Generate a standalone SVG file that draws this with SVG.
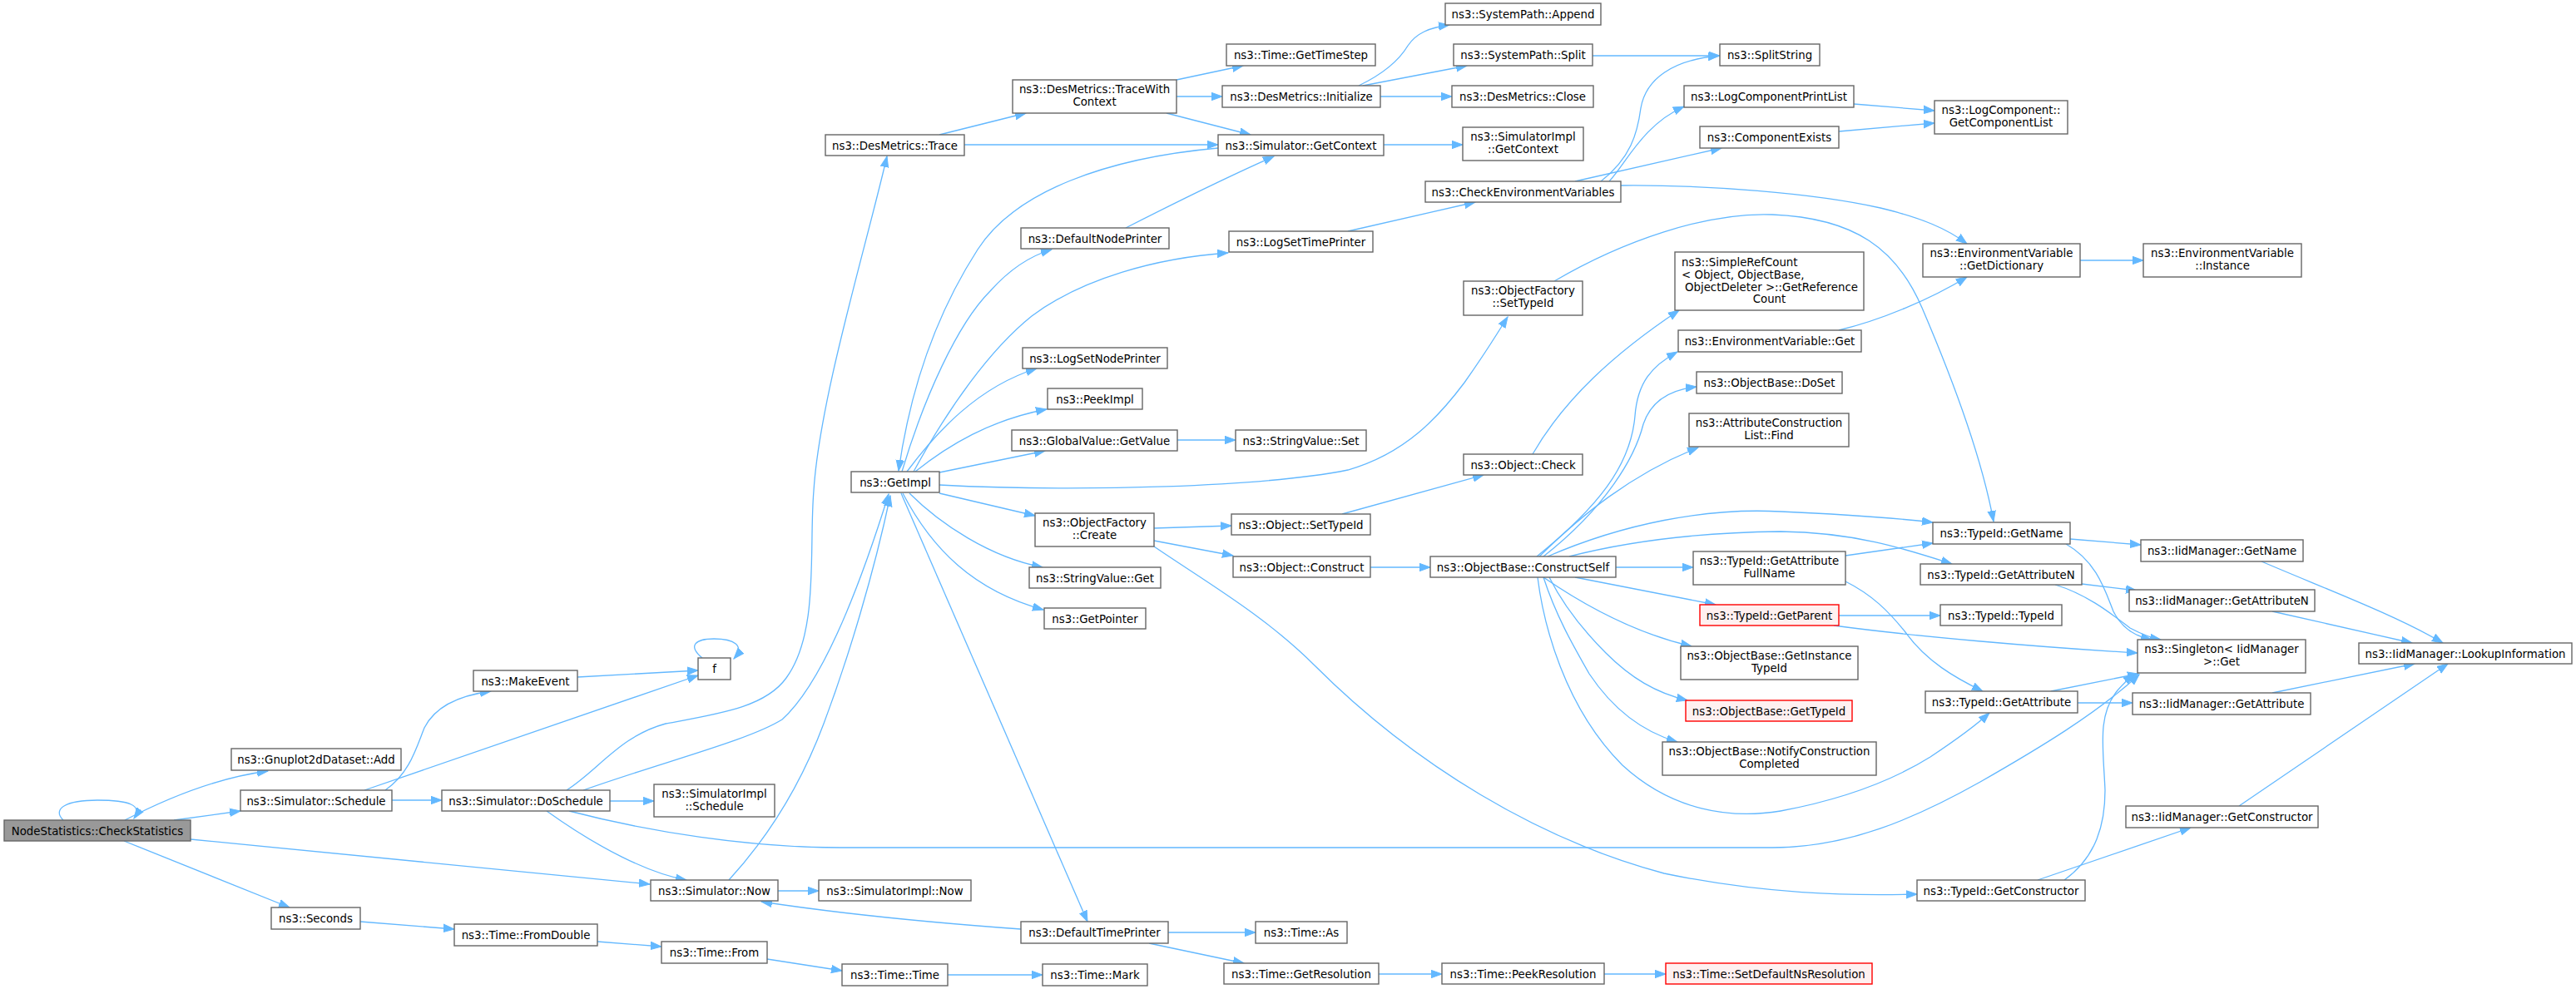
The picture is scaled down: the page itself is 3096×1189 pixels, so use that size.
<svg xmlns="http://www.w3.org/2000/svg" width="3096" height="1189" viewBox="0 0 3096 1189">
<style>
.n rect{fill:#ffffff;stroke:#666666;stroke-width:1.4}
.r rect{fill:#fff0f0;stroke:#ff0000;stroke-width:1.4}
.m rect{fill:#999999;stroke:#666666;stroke-width:1.4}
text{font-family:"DejaVu Sans",sans-serif;font-size:13.33px;text-anchor:middle;fill:#000000}
text.l{text-anchor:start}
#edges path{fill:none;stroke:#63b8ff;stroke-width:1.3;marker-end:url(#a)}
</style>
<defs>
<marker id="a" markerUnits="userSpaceOnUse" markerWidth="14" markerHeight="11" refX="13" refY="5.5" orient="auto">
<path d="M0,0.8 L13,5.5 L0,10.2 z" fill="#63b8ff" stroke="#63b8ff" stroke-width="1"/>
</marker>
</defs>
<rect x="0" y="0" width="3096" height="1189" fill="#ffffff"/>
<g id="edges">
<path d="M76,986 C62,972 80,962 117,962 C155,962 172,968 161,984"/>
<path d="M150,986 C200,960 260,935 322,927"/>
<path d="M209,986 L289,975"/>
<path d="M229,1009 L781,1063"/>
<path d="M149,1011 L348,1091"/>
<path d="M463,950 C492,930 500,900 510,875 C525,845 560,835 590,831"/>
<path d="M438,950 L839,812"/>
<path d="M471,962 L531,962"/>
<path d="M694,814 L839,806"/>
<path d="M844,791 C826,776 836,768 858,768 C882,768 896,776 882,792"/>
<path d="M681,950 C720,925 745,885 800,870 C865,858 920,850 945,815 C985,760 972,660 978,590 C985,480 1040,300 1066,188"/>
<path d="M701,950 C800,915 900,890 940,865 C990,820 1035,700 1068,594"/>
<path d="M733,963 L786,963"/>
<path d="M657,975 C720,1020 780,1050 825,1058"/>
<path d="M684,975 C780,1000 900,1019 1010,1019 L2130,1019 C2220,1019 2300,985 2380,940 C2450,900 2520,858 2571,811"/>
<path d="M433,1108 L546,1117"/>
<path d="M718,1132 L795,1138"/>
<path d="M935,1071 L984,1071"/>
<path d="M876,1058 C920,1010 960,950 990,870 C1020,790 1050,690 1070,596"/>
<path d="M1227,1117 C1130,1110 1020,1100 915,1084"/>
<path d="M1404,1121 L1509,1121"/>
<path d="M1381,1134 L1495,1158"/>
<path d="M922,1153 L1012,1167"/>
<path d="M1139,1172 L1253,1172"/>
<path d="M1657,1171 L1733,1171"/>
<path d="M1928,1171 L2002,1171"/>
<path d="M1083,593 L1307,1108"/>
<path d="M1090,567 C1125,520 1175,465 1246,443"/>
<path d="M1100,567 C1140,535 1190,505 1258,492"/>
<path d="M1129,568 L1256,542"/>
<path d="M1129,583 C1300,592 1520,585 1620,565 C1690,545 1730,500 1760,460 C1785,425 1800,400 1812,381"/>
<path d="M1129,593 L1244,620"/>
<path d="M1093,593 C1130,630 1190,670 1253,682"/>
<path d="M1085,593 C1120,660 1170,710 1254,733"/>
<path d="M1084,567 C1110,480 1150,390 1190,350 C1215,322 1240,307 1264,300"/>
<path d="M1098,567 C1140,490 1190,420 1240,380 C1300,335 1390,310 1476,304"/>
<path d="M1464,178 C1330,190 1220,230 1175,300 C1130,370 1095,460 1080,566"/>
<path d="M1129,162 L1233,136"/>
<path d="M1159,174 L1464,174"/>
<path d="M1414,96 L1494,79"/>
<path d="M1414,116 L1469,116"/>
<path d="M1402,136 L1503,162"/>
<path d="M1353,274 C1400,250 1470,215 1531,188"/>
<path d="M1663,174 L1758,174"/>
<path d="M1633,103 C1660,90 1680,75 1692,55 C1702,40 1718,33 1742,30"/>
<path d="M1638,103 L1763,79"/>
<path d="M1659,116 L1745,116"/>
<path d="M1914,67 L2067,67"/>
<path d="M1620,278 L1773,243"/>
<path d="M1924,218 C1960,190 1968,160 1972,130 C1978,95 2010,72 2066,67"/>
<path d="M1934,218 C1955,195 1975,150 2024,128"/>
<path d="M1893,218 L2069,178"/>
<path d="M1948,223 C2050,222 2180,232 2260,250 C2310,262 2340,275 2364,293"/>
<path d="M2228,125 L2325,133"/>
<path d="M2210,158 L2325,148"/>
<path d="M2210,397 C2260,385 2320,360 2364,333"/>
<path d="M2500,313 L2576,313"/>
<path d="M1868,338 C1950,290 2050,255 2130,258 C2230,262 2280,300 2310,370 C2340,440 2380,540 2396,627"/>
<path d="M1415,529 L1485,529"/>
<path d="M1387,635 L1480,632"/>
<path d="M1387,650 L1482,668"/>
<path d="M1387,657 C1450,700 1520,740 1580,800 C1700,920 1850,1010 2000,1050 C2120,1075 2220,1077 2304,1075"/>
<path d="M1613,618 L1783,571"/>
<path d="M1842,546 C1880,480 1940,425 2018,373"/>
<path d="M1647,682 L1719,682"/>
<path d="M1847,669 C1920,610 1960,560 1965,500 C1968,460 1985,440 2016,423"/>
<path d="M1855,669 C1930,610 1965,550 1975,510 C1985,480 2010,468 2039,465"/>
<path d="M1850,669 C1900,620 1960,570 2041,538"/>
<path d="M1860,669 C1950,630 2050,610 2140,615 C2210,618 2270,622 2323,628"/>
<path d="M1886,669 C1960,650 2050,640 2140,639 C2230,640 2290,660 2346,678"/>
<path d="M1942,682 L2035,682"/>
<path d="M1893,694 L2062,727"/>
<path d="M1855,694 C1900,725 1960,760 2033,777"/>
<path d="M1862,694 C1880,730 1905,760 1930,785 C1960,815 1990,833 2028,842"/>
<path d="M1855,694 C1870,740 1890,775 1910,810 C1940,855 1975,880 2016,892"/>
<path d="M1848,694 C1855,750 1880,850 1950,920 C2010,975 2080,985 2140,975 C2220,960 2280,935 2320,910 C2350,890 2375,872 2391,857"/>
<path d="M2218,668 L2323,653"/>
<path d="M2218,699 C2250,715 2270,735 2290,760 C2315,795 2350,815 2383,831"/>
<path d="M2210,740 L2332,740"/>
<path d="M2204,752 C2300,765 2450,778 2569,785"/>
<path d="M2488,648 L2573,655"/>
<path d="M2483,654 C2520,675 2530,710 2540,735 C2550,755 2565,765 2586,769"/>
<path d="M2502,702 L2568,710"/>
<path d="M2470,703 C2510,715 2540,740 2560,755 C2575,763 2585,767 2597,769"/>
<path d="M2718,675 C2800,710 2880,740 2936,773"/>
<path d="M2731,735 L2899,773"/>
<path d="M2465,831 L2570,810"/>
<path d="M2497,845 L2563,845"/>
<path d="M2731,833 L2902,798"/>
<path d="M2481,1058 C2520,1030 2530,990 2530,950 C2528,900 2520,860 2545,830 C2552,822 2558,816 2565,811"/>
<path d="M2449,1058 L2633,995"/>
<path d="M2691,969 L2942,798"/>
</g>
<g id="n_check" class="m"><rect x="5" y="986" width="224" height="25"/><text x="117" y="1003.5">NodeStatistics::CheckStatistics</text></g>
<g id="n_gnuplot" class="n"><rect x="278" y="900" width="204" height="26"/><text x="380" y="918">ns3::Gnuplot2dDataset::Add</text></g>
<g id="n_schedule" class="n"><rect x="289" y="950" width="182" height="25"/><text x="380" y="967.5">ns3::Simulator::Schedule</text></g>
<g id="n_makeevent" class="n"><rect x="569" y="806" width="125" height="25"/><text x="631.5" y="823.5">ns3::MakeEvent</text></g>
<g id="n_doschedule" class="n"><rect x="531" y="950" width="202" height="25"/><text x="632" y="967.5">ns3::Simulator::DoSchedule</text></g>
<g id="n_seconds" class="n"><rect x="326" y="1091" width="107" height="26"/><text x="379.5" y="1109">ns3::Seconds</text></g>
<g id="n_fromdouble" class="n"><rect x="546" y="1111" width="172" height="26"/><text x="632" y="1129">ns3::Time::FromDouble</text></g>
<g id="n_f" class="n"><rect x="839" y="791" width="39" height="26"/><text x="858.5" y="809">f</text></g>
<g id="n_simimplsched" class="n"><rect x="786" y="943" width="145" height="39"/><text x="858.5" y="959">ns3::SimulatorImpl</text><text x="858.5" y="974">::Schedule</text></g>
<g id="n_now" class="n"><rect x="782" y="1058" width="153" height="25"/><text x="858.5" y="1075.5">ns3::Simulator::Now</text></g>
<g id="n_simimplnow" class="n"><rect x="984" y="1058" width="183" height="25"/><text x="1075.5" y="1075.5">ns3::SimulatorImpl::Now</text></g>
<g id="n_from" class="n"><rect x="795" y="1132" width="127" height="26"/><text x="858.5" y="1150">ns3::Time::From</text></g>
<g id="n_time" class="n"><rect x="1012" y="1159" width="127" height="26"/><text x="1075.5" y="1177">ns3::Time::Time</text></g>
<g id="n_mark" class="n"><rect x="1253" y="1159" width="126" height="26"/><text x="1316" y="1177">ns3::Time::Mark</text></g>
<g id="n_defaulttime" class="n"><rect x="1227" y="1108" width="177" height="26"/><text x="1315.5" y="1126">ns3::DefaultTimePrinter</text></g>
<g id="n_getimpl" class="n"><rect x="1023" y="567" width="106" height="25"/><text x="1076" y="584.5">ns3::GetImpl</text></g>
<g id="n_trace" class="n"><rect x="992" y="162" width="167" height="25"/><text x="1075.5" y="179.5">ns3::DesMetrics::Trace</text></g>
<g id="n_tracewc" class="n"><rect x="1217" y="96" width="197" height="40"/><text x="1315.5" y="112">ns3::DesMetrics::TraceWith</text><text x="1315.5" y="127">Context</text></g>
<g id="n_defnode" class="n"><rect x="1227" y="274" width="178" height="25"/><text x="1316" y="291.5">ns3::DefaultNodePrinter</text></g>
<g id="n_logsetnode" class="n"><rect x="1229" y="418" width="174" height="25"/><text x="1316" y="435.5">ns3::LogSetNodePrinter</text></g>
<g id="n_peekimpl" class="n"><rect x="1259" y="467" width="114" height="25"/><text x="1316" y="484.5">ns3::PeekImpl</text></g>
<g id="n_globalvalue" class="n"><rect x="1216" y="517" width="199" height="25"/><text x="1315.5" y="534.5">ns3::GlobalValue::GetValue</text></g>
<g id="n_create" class="n"><rect x="1244" y="617" width="143" height="40"/><text x="1315.5" y="633">ns3::ObjectFactory</text><text x="1315.5" y="648">::Create</text></g>
<g id="n_stringget" class="n"><rect x="1237" y="682" width="158" height="25"/><text x="1316" y="699.5">ns3::StringValue::Get</text></g>
<g id="n_getpointer" class="n"><rect x="1255" y="731" width="122" height="25"/><text x="1316" y="748.5">ns3::GetPointer</text></g>
<g id="n_gettimestep" class="n"><rect x="1474" y="53" width="179" height="26"/><text x="1563.5" y="71">ns3::Time::GetTimeStep</text></g>
<g id="n_initialize" class="n"><rect x="1469" y="103" width="190" height="26"/><text x="1564" y="121">ns3::DesMetrics::Initialize</text></g>
<g id="n_getcontext" class="n"><rect x="1464" y="162" width="199" height="25"/><text x="1563.5" y="179.5">ns3::Simulator::GetContext</text></g>
<g id="n_logsettime" class="n"><rect x="1477" y="278" width="173" height="25"/><text x="1563.5" y="295.5">ns3::LogSetTimePrinter</text></g>
<g id="n_append" class="n"><rect x="1737" y="4" width="187" height="26"/><text x="1830.5" y="22">ns3::SystemPath::Append</text></g>
<g id="n_split" class="n"><rect x="1747" y="53" width="167" height="26"/><text x="1830.5" y="71">ns3::SystemPath::Split</text></g>
<g id="n_close" class="n"><rect x="1745" y="103" width="170" height="26"/><text x="1830" y="121">ns3::DesMetrics::Close</text></g>
<g id="n_simimplctx" class="n"><rect x="1758" y="153" width="145" height="40"/><text x="1830.5" y="169">ns3::SimulatorImpl</text><text x="1830.5" y="184">::GetContext</text></g>
<g id="n_checkenv" class="n"><rect x="1713" y="218" width="235" height="25"/><text x="1830.5" y="235.5">ns3::CheckEnvironmentVariables</text></g>
<g id="n_factsettypeid" class="n"><rect x="1759" y="338" width="143" height="41"/><text x="1830.5" y="354">ns3::ObjectFactory</text><text x="1830.5" y="369">::SetTypeId</text></g>
<g id="n_splitstring" class="n"><rect x="2067" y="53" width="120" height="26"/><text x="2127" y="71">ns3::SplitString</text></g>
<g id="n_logcpl" class="n"><rect x="2024" y="103" width="204" height="26"/><text x="2126" y="121">ns3::LogComponentPrintList</text></g>
<g id="n_compexists" class="n"><rect x="2043" y="152" width="167" height="26"/><text x="2126.5" y="170">ns3::ComponentExists</text></g>
<g id="n_simplerefcount" class="n"><rect x="2013" y="303" width="227" height="70"/><text class="l" x="2021" y="320">ns3::SimpleRefCount</text><text class="l" x="2021" y="335">&lt; Object, ObjectBase,</text><text class="l" x="2025" y="349.5">ObjectDeleter &gt;::GetReference</text><text x="2126.5" y="364">Count</text></g>
<g id="n_envget" class="n"><rect x="2017" y="397" width="220" height="26"/><text x="2127" y="415">ns3::EnvironmentVariable::Get</text></g>
<g id="n_stringset" class="n"><rect x="1485" y="517" width="157" height="25"/><text x="1563.5" y="534.5">ns3::StringValue::Set</text></g>
<g id="n_objcheck" class="n"><rect x="1759" y="546" width="143" height="25"/><text x="1830.5" y="563.5">ns3::Object::Check</text></g>
<g id="n_doset" class="n"><rect x="2039" y="447" width="175" height="26"/><text x="2126.5" y="465">ns3::ObjectBase::DoSet</text></g>
<g id="n_acfind" class="n"><rect x="2030" y="497" width="192" height="40"/><text x="2126" y="513">ns3::AttributeConstruction</text><text x="2126" y="528">List::Find</text></g>
<g id="n_objsettypeid" class="n"><rect x="1480" y="618" width="167" height="25"/><text x="1563.5" y="635.5">ns3::Object::SetTypeId</text></g>
<g id="n_construct" class="n"><rect x="1482" y="669" width="165" height="25"/><text x="1564.5" y="686.5">ns3::Object::Construct</text></g>
<g id="n_constructself" class="n"><rect x="1719" y="669" width="223" height="25"/><text x="1830.5" y="686.5">ns3::ObjectBase::ConstructSelf</text></g>
<g id="n_getattrfull" class="n"><rect x="2035" y="663" width="183" height="40"/><text x="2126.5" y="679">ns3::TypeId::GetAttribute</text><text x="2126.5" y="694">FullName</text></g>
<g id="n_getparent" class="r"><rect x="2043" y="727" width="167" height="25"/><text x="2126.5" y="744.5">ns3::TypeId::GetParent</text></g>
<g id="n_getinst" class="n"><rect x="2020" y="777" width="213" height="40"/><text x="2126.5" y="793">ns3::ObjectBase::GetInstance</text><text x="2126.5" y="808">TypeId</text></g>
<g id="n_gettypeid" class="r"><rect x="2026" y="842" width="200" height="25"/><text x="2126" y="859.5">ns3::ObjectBase::GetTypeId</text></g>
<g id="n_notify" class="n"><rect x="1998" y="892" width="257" height="40"/><text x="2126.5" y="908">ns3::ObjectBase::NotifyConstruction</text><text x="2126.5" y="923">Completed</text></g>
<g id="n_as" class="n"><rect x="1509" y="1108" width="110" height="26"/><text x="1564" y="1126">ns3::Time::As</text></g>
<g id="n_getres" class="n"><rect x="1471" y="1158" width="186" height="25"/><text x="1564" y="1175.5">ns3::Time::GetResolution</text></g>
<g id="n_peekres" class="n"><rect x="1733" y="1158" width="195" height="25"/><text x="1830.5" y="1175.5">ns3::Time::PeekResolution</text></g>
<g id="n_setdefns" class="r"><rect x="2002" y="1158" width="248" height="25"/><text x="2126" y="1175.5">ns3::Time::SetDefaultNsResolution</text></g>
<g id="n_getcomplist" class="n"><rect x="2325" y="121" width="160" height="40"/><text x="2405" y="137">ns3::LogComponent::</text><text x="2405" y="152">GetComponentList</text></g>
<g id="n_getdict" class="n"><rect x="2311" y="293" width="189" height="40"/><text x="2405.5" y="309">ns3::EnvironmentVariable</text><text x="2405.5" y="324">::GetDictionary</text></g>
<g id="n_instance" class="n"><rect x="2576" y="293" width="190" height="40"/><text x="2671" y="309">ns3::EnvironmentVariable</text><text x="2671" y="324">::Instance</text></g>
<g id="n_getname" class="n"><rect x="2323" y="628" width="165" height="26"/><text x="2405.5" y="646">ns3::TypeId::GetName</text></g>
<g id="n_iidgetname" class="n"><rect x="2573" y="649" width="195" height="26"/><text x="2670.5" y="667">ns3::IidManager::GetName</text></g>
<g id="n_getattrn" class="n"><rect x="2308" y="678" width="194" height="25"/><text x="2405" y="695.5">ns3::TypeId::GetAttributeN</text></g>
<g id="n_iidgetattrn" class="n"><rect x="2559" y="709" width="223" height="26"/><text x="2670.5" y="727">ns3::IidManager::GetAttributeN</text></g>
<g id="n_typeid" class="n"><rect x="2332" y="727" width="146" height="25"/><text x="2405" y="744.5">ns3::TypeId::TypeId</text></g>
<g id="n_singleton" class="n"><rect x="2569" y="769" width="202" height="40"/><text x="2670" y="785">ns3::Singleton&lt; IidManager</text><text x="2670" y="800">&gt;::Get</text></g>
<g id="n_lookup" class="n"><rect x="2835" y="773" width="256" height="25"/><text x="2963" y="790.5">ns3::IidManager::LookupInformation</text></g>
<g id="n_getattr" class="n"><rect x="2314" y="831" width="183" height="26"/><text x="2405.5" y="849">ns3::TypeId::GetAttribute</text></g>
<g id="n_iidgetattr" class="n"><rect x="2563" y="833" width="214" height="26"/><text x="2670" y="851">ns3::IidManager::GetAttribute</text></g>
<g id="n_iidgetctor" class="n"><rect x="2555" y="969" width="231" height="26"/><text x="2670.5" y="987">ns3::IidManager::GetConstructor</text></g>
<g id="n_getctor" class="n"><rect x="2304" y="1058" width="202" height="25"/><text x="2405" y="1075.5">ns3::TypeId::GetConstructor</text></g>
</svg>
